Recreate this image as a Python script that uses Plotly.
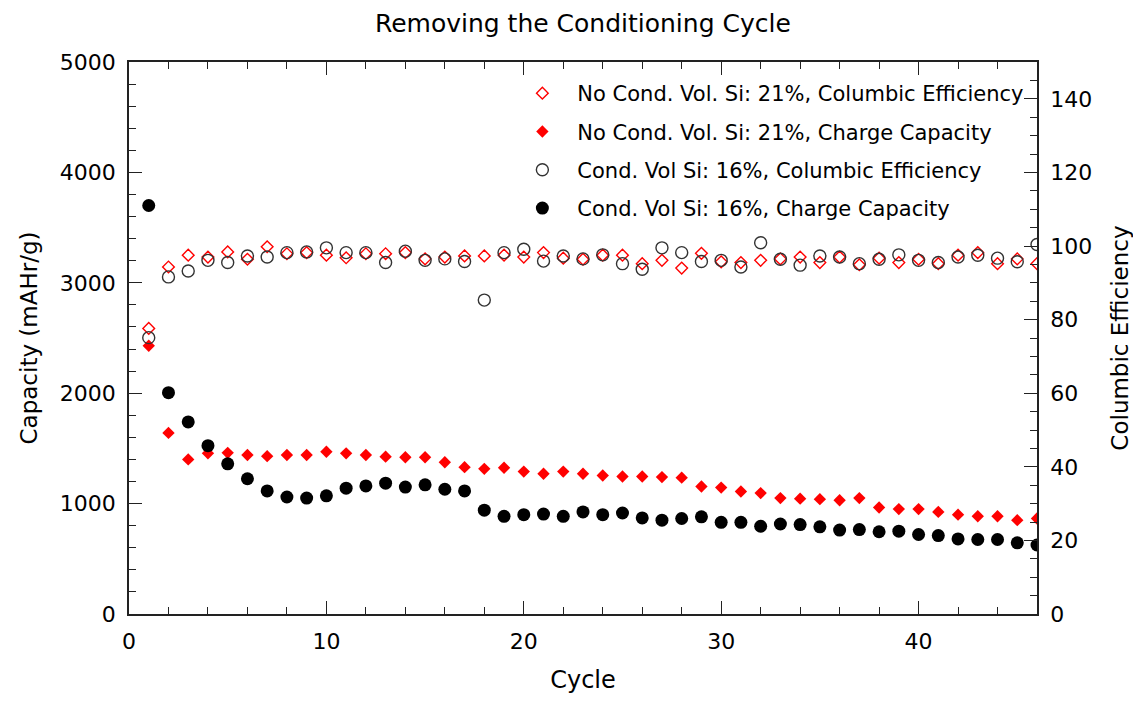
import plotly.graph_objects as go

cycles = list(range(1, 47))

# No conditioning cycle, 21 vol% Si
nocond_capacity = [
    2430, 1640, 1400, 1455, 1460, 1440, 1430, 1440, 1440, 1470,
    1455, 1440, 1425, 1420, 1420, 1375, 1330, 1315, 1325, 1290,
    1270, 1290, 1270, 1255, 1245, 1245, 1240, 1235, 1155, 1145,
    1110, 1095, 1050, 1045, 1040, 1030, 1050, 965, 950, 950,
    925, 900, 885, 885, 850, 865,
]
nocond_ce = [
    77.6, 94.3, 97.5, 97.0, 98.4, 96.4, 99.8, 97.9, 98.2, 97.5,
    96.8, 97.9, 97.9, 98.2, 96.5, 97.0, 97.3, 97.3, 97.5, 97.0,
    98.2, 96.7, 96.4, 97.5, 97.5, 95.2, 96.1, 94.0, 98.0, 95.7,
    95.5, 96.1, 96.5, 97.0, 95.5, 97.0, 94.9, 96.7, 95.5, 96.4,
    95.2, 97.5, 98.2, 95.2, 96.5, 95.2,
]

# Conditioned, 16 vol% Si
cond_capacity = [
    3700, 2005, 1740, 1525, 1360, 1225, 1115, 1060, 1050, 1070,
    1140, 1160, 1185, 1150, 1170, 1130, 1115, 940, 885, 900,
    905, 885, 925, 900, 915, 870, 850, 865, 880, 830,
    830, 795, 815, 810, 790, 760, 765, 745, 750, 720,
    710, 680, 675, 675, 645, 625,
]
cond_ce = [
    75.1, 91.6, 93.2, 96.1, 95.5, 97.3, 97.0, 98.2, 98.4, 99.5,
    98.2, 98.2, 95.5, 98.6, 96.1, 96.5, 95.8, 85.3, 98.2, 99.1,
    95.9, 97.3, 96.5, 97.6, 95.2, 93.7, 99.5, 98.2, 95.8, 96.1,
    94.3, 100.9, 96.4, 94.8, 97.3, 97.0, 95.2, 96.4, 97.6, 96.1,
    95.5, 97.0, 97.5, 96.7, 95.7, 100.4,
]

FONT = 'DejaVu Sans'
AXIS_COLOR = '#222222'

fig = go.Figure()

fig.add_trace(go.Scatter(
    x=cycles, y=nocond_ce, yaxis='y2', mode='markers',
    name='No Cond. Vol. Si: 21%, Columbic Efficiency',
    legendgroup='a',
    marker=dict(symbol='diamond-open', size=9, color='#ff0000',
                line=dict(width=1.4, color='#ff0000')),
))
fig.add_trace(go.Scatter(
    x=cycles, y=nocond_capacity, mode='markers',
    name='No Cond. Vol. Si: 21%, Charge Capacity',
    legendgroup='b',
    marker=dict(symbol='diamond', size=9.5, color='#ff0000'),
))
fig.add_trace(go.Scatter(
    x=cycles, y=cond_ce, yaxis='y2', mode='markers',
    name='Cond. Vol Si: 16%, Columbic Efficiency',
    legendgroup='c',
    marker=dict(symbol='circle-open', size=12, color='#333333',
                line=dict(width=1.4, color='#333333')),
))
fig.add_trace(go.Scatter(
    x=cycles, y=cond_capacity, mode='markers',
    name='Cond. Vol Si: 16%, Charge Capacity',
    legendgroup='d',
    marker=dict(symbol='circle', size=13, color='#000000'),
))

axis_common = dict(
    showline=True, linecolor=AXIS_COLOR, linewidth=1.8,
    ticks='inside', ticklen=13, tickwidth=1.4, tickcolor=AXIS_COLOR,
    showgrid=False, zeroline=False, automargin=False, ticklabelstandoff=7,
    tickfont=dict(family=FONT, size=22, color='#000000'),
)

# the page body adds an 8px margin, so the figure is sized to sit inside it
fig.update_layout(
    width=1125, height=686,
    paper_bgcolor='white', plot_bgcolor='white',
    font=dict(family=FONT, color='#000000'),
    title=dict(text='Removing the Conditioning Cycle', x=0.511, xanchor='center',
               y=0.978, yanchor='middle', font=dict(family=FONT, size=25, color='#000000')),
    margin=dict(l=121, r=96, t=54, b=80),
    xaxis=dict(
        **axis_common, range=[0, 46], tick0=0, dtick=10, mirror='ticks',
        minor=dict(dtick=2, ticks='inside', ticklen=7, tickcolor=AXIS_COLOR),
        title=dict(text='Cycle', font=dict(family=FONT, size=24), standoff=30),
    ),
    yaxis=dict(
        **axis_common, range=[0, 5000], tick0=0, dtick=1000,
        minor=dict(dtick=200, ticks='inside', ticklen=7, tickcolor=AXIS_COLOR),
        title=dict(text='Capacity (mAHr/g)', font=dict(family=FONT, size=23), standoff=16),
    ),
    yaxis2=dict(
        **axis_common, overlaying='y', side='right', range=[0, 150], tick0=0, dtick=20,
        minor=dict(dtick=5, ticks='inside', ticklen=7, tickcolor=AXIS_COLOR),
        title=dict(text='Columbic Efficiency', font=dict(family=FONT, size=23), standoff=31),
    ),
    legend=dict(
        x=0.4167, xanchor='left', y=0.98, yanchor='top',
        bgcolor='rgba(0,0,0,0)', borderwidth=0,
        font=dict(family=FONT, size=21, color='#000000'),
        traceorder='grouped', tracegroupgap=8, itemwidth=60,
    ),
    showlegend=True,
)

fig.write_html("out.html")
